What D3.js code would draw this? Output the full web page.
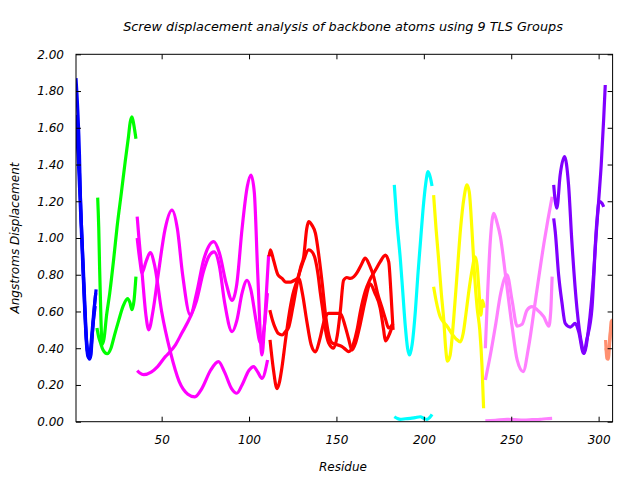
<!DOCTYPE html>
<html><head><meta charset="utf-8">
<script src="https://cdn.jsdelivr.net/npm/d3@7"></script>
<style>
body{margin:0;background:#fff;}
text{font-family:"DejaVu Sans",sans-serif;font-style:italic;font-size:12px;fill:#000;}
</style></head>
<body><svg id="c" width="640" height="480"></svg>
<script>
// ---- data: [residue, displacement] ----
const xTicks = [50,100,150,200,250,300];
const yTicks = [0,0.2,0.4,0.6,0.8,1.0,1.2,1.4,1.6,1.8,2.0];

const group1 = [ // blue
 [[1,1.87],[2,1.7],[3,1.45],[3.5,1.24],[4.2,1.05],[5,0.88],[6,0.66],[7,0.45],[8,0.36],[8.7,0.34],[9.5,0.36],[10.5,0.5],[11.5,0.62],[12.5,0.72]],
 [[1,1.67],[2,1.55],[3,1.35],[4,1.1],[5,0.85],[6,0.62],[7,0.44],[8,0.36],[9,0.35],[10,0.44],[11,0.55],[12,0.63]],
 [[1,1.6],[2,1.48],[3,1.28],[4,1.05],[5,0.82],[6,0.6],[7,0.42],[8,0.35],[9,0.37],[10,0.47],[11,0.58],[12.3,0.7]]
];
const group2 = [ // green
 [[13.4,1.22],[14,1.06],[14.5,0.84],[15.3,0.55],[15.9,0.42],[17,0.45],[18.5,0.58],[20.3,0.70],[22.5,0.88],[24.5,1.06],[27,1.25],[29.2,1.42],[31,1.55],[32,1.63],[33,1.66],[34,1.62],[35.3,1.54]],
 [[13,0.51],[14,0.46],[15,0.43],[16.5,0.39],[18.8,0.37],[21,0.40],[23,0.47],[25.4,0.55],[28,0.63],[30.5,0.67],[31.8,0.65],[33,0.61],[34.2,0.66],[35.3,0.79]]
];
const group3 = [ // magenta
 [[36,1.116],[37,1.0],[38.8,0.81],[41,0.58],[42.6,0.50],[45,0.6],[48,0.8],[52,1.05],[55.9,1.152],[59,1.05],[62,0.8],[66.4,0.58],[70,0.7],[74,0.88],[79.8,0.98],[83,0.92],[87,0.75],[90.3,0.66],[93,0.75],[96,1.05],[99,1.28],[101.1,1.343],[103,1.25],[105,0.8],[107.4,0.363],[109,0.55],[111.2,0.907]],
 [[36,1.0],[37.5,0.88],[38.8,0.81],[41,0.87],[43.5,0.92],[46,0.85],[50,0.6],[55,0.38],[60,0.22],[65,0.15],[69,0.135],[73,0.18],[78,0.28],[82.5,0.327],[86,0.27],[90,0.18],[93,0.155],[96,0.2],[100,0.28],[102.6,0.30],[105,0.27],[107.4,0.236],[110.6,0.336]],
 [[36,0.278],[37.5,0.265],[39.7,0.256],[44,0.27],[47.7,0.30],[52.1,0.354],[54.8,0.381],[58,0.42],[61.4,0.48],[66.4,0.57],[70,0.66],[74,0.82],[77,0.9],[80,0.925],[83,0.85],[86,0.65],[90.3,0.49],[93,0.55],[96,0.7],[98.9,0.77],[101,0.72],[104,0.55],[106.5,0.43],[108.5,0.5],[110.5,0.7]]
];
const group4 = [ // red
 [[111.5,0.90],[112.2,0.935],[114,0.88],[116.5,0.8],[118.9,0.78],[121,0.76],[123.6,0.76],[126,0.77],[128.4,0.78],[130.5,0.7],[133,0.55],[135.5,0.42],[138,0.38],[140.5,0.45],[143,0.55],[145.5,0.59],[149,0.59],[152.2,0.59],[155,0.52],[157,0.45],[158.9,0.39],[161,0.43],[163.6,0.53],[166.5,0.66],[169.3,0.75],[172,0.7],[175,0.62],[177,0.5],[178,0.44],[180,0.47],[181.8,0.515]],
 [[111.9,0.608],[113.5,0.55],[114.8,0.515],[116.8,0.48],[118.9,0.472],[120.8,0.49],[122.7,0.515],[125,0.62],[127.5,0.75],[129.5,0.84],[131.3,0.9],[133,1.05],[134.1,1.089],[136,1.07],[138,1.025],[140,0.9],[141.9,0.75],[143.8,0.58],[145.7,0.47],[147.4,0.43],[150,0.42],[153,0.41],[155,0.395],[157,0.381],[159.9,0.43],[161.8,0.5],[163.7,0.6],[166.5,0.71],[169,0.77],[172,0.82],[175,0.87],[178,0.907],[179.9,0.87],[181.2,0.7],[182.4,0.5]],
 [[112,0.445],[114,0.28],[116,0.18],[117.5,0.22],[118.9,0.30],[120.8,0.44],[122.7,0.57],[125,0.69],[127.5,0.77],[129.5,0.83],[131.3,0.88],[134.1,0.935],[136,0.925],[138,0.88],[139.5,0.8],[140.8,0.70],[142.3,0.6],[143.7,0.50],[145.5,0.43],[148.4,0.40],[150.5,0.47],[152.2,0.6],[154.1,0.77],[156,0.785],[157.9,0.78],[160,0.79],[161.7,0.81],[164,0.85],[166.5,0.89],[169,0.85],[171.3,0.79],[173.5,0.7],[176.1,0.62],[178,0.56],[179.9,0.51],[182.4,0.535]]
];
const group5 = [ // cyan
 [[183.1,1.289],[184.5,1.1],[186.6,0.88],[188,0.7],[189.4,0.52],[190.7,0.4],[191.9,0.363],[193.3,0.42],[195.2,0.608],[196.6,0.8],[198,0.97],[199.5,1.15],[201,1.29],[202.4,1.361],[203.7,1.33],[204.7,1.283]],
 [[183.1,0.027],[184.8,0.018],[186.6,0.013],[189.5,0.016],[192.3,0.018],[195,0.022],[198,0.027],[200,0.018],[201.8,0.013],[203.3,0.022],[204.7,0.04]]
];
const group6 = [ // yellow
 [[205.6,1.234],[207,1.05],[208.5,0.88],[210,0.7],[211.4,0.554],[212.5,0.4],[213.5,0.33],[215,0.36],[217,0.55],[219,0.8],[221,1.05],[223,1.22],[224.7,1.29],[226,1.25],[227.5,1.05],[229,0.8],[230.5,0.62],[232,0.5],[233.3,0.3],[234.2,0.073]],
 [[205.6,0.735],[207,0.66],[209.4,0.57],[211.5,0.54],[213.3,0.52],[216,0.48],[218.5,0.45],[220.9,0.435],[222.5,0.48],[224,0.58],[225.6,0.70],[227.5,0.82],[229.4,0.898],[230.5,0.85],[231.5,0.72],[232.6,0.58],[233.6,0.66],[234.5,0.62]]
];
const group7 = [ // violet
 [[235.2,0.40],[236.5,0.7],[238,0.98],[240,1.134],[242,1.08],[243.8,1.007],[246.7,0.80],[250.5,0.518],[253.4,0.336],[256.8,0.273],[260,0.41],[263.9,0.663],[268.7,0.97],[271,1.1],[273.4,1.225]],
 [[235.2,0.227],[238,0.36],[240.9,0.518],[244,0.7],[247.6,0.80],[250.5,0.66],[253.4,0.52],[256.2,0.53],[259,0.607],[261.9,0.626],[264.8,0.61],[268.7,0.57],[271.5,0.52],[272.6,0.6],[273.4,0.79]],
 [[235.2,0.004],[241,0.008],[247.6,0.013],[252,0.011],[257.1,0.009],[262,0.011],[266.6,0.013],[270,0.016],[273.4,0.018]]
];
const group8 = [ // purple
 [[274.3,1.289],[275.2,1.2],[276.1,1.162],[278,1.343],[280.5,1.443],[282.8,1.289],[284.7,0.98],[287.6,0.617],[290.4,0.417],[291.6,0.372],[294.3,0.51],[297.1,0.80],[299,1.09],[300.4,1.2],[301.9,1.19],[302.9,1.17]],
 [[274.3,1.107],[275.2,1.034],[277.1,0.80],[279,0.65],[280.9,0.535],[283.8,0.515],[286.6,0.535],[288.6,0.49],[291.4,0.372],[293.3,0.45],[296.2,0.617],[298.1,0.945],[300,1.2],[301.5,1.4],[302.9,1.65],[303.8,1.833]]
];
const group9 = [ // salmon
 [[304,0.445],[304.7,0.345],[305.5,0.34],[306.4,0.44],[307.2,0.545],[308,0.554]],
 [[304.2,0.40],[305.2,0.37],[306,0.42],[307,0.5],[308,0.53]]
];
const groups = [group1,group2,group3,group4,group5,group6,group7,group8,group9];
const groupColors = ["#0000ff","#00ff00","#ff00ff","#ff0000","#00ffff","#ffff00","#ff80ff","#8000ff","#ff9070"];

// ---- layout ----
const svg = d3.select("#c");
const L=76, R=612.6, T=54.3, B=421.7;
const x = d3.scaleLinear().domain([1,308]).range([L,R]);
const y = d3.scaleLinear().domain([0,2]).range([B,T]);

svg.append("clipPath").attr("id","pc").append("rect")
  .attr("x",L).attr("y",T).attr("width",R-L).attr("height",B-T);

const line = d3.line().x(d=>x(d[0])).y(d=>y(d[1])).curve(d3.curveMonotoneX);
const plot = svg.append("g").attr("clip-path","url(#pc)");
groups.forEach((g,i)=>{
  g.forEach(c=>{
    plot.append("path").attr("d",line(c)).attr("fill","none")
      .attr("stroke",groupColors[i]).attr("stroke-width",3.2)
      .attr("stroke-linejoin","round");
  });
});

// axes
const fmt = d3.format(".2f");
const axB = d3.axisBottom(x).tickValues(xTicks).tickSize(-5).tickPadding(14).tickFormat(d3.format("d"));
const axT = d3.axisTop(x).tickValues(xTicks).tickSize(-5).tickFormat("");
const axL = d3.axisLeft(y).tickValues(yTicks).tickSize(-5).tickPadding(12).tickFormat(fmt);
const axR = d3.axisRight(y).tickValues(yTicks).tickSize(-5).tickFormat("");
function style(g){
  g.select(".domain").remove();
  g.selectAll("line").attr("stroke","#000");
  g.selectAll("text").attr("font-size",null).attr("font-family",null);
}
svg.append("g").attr("transform",`translate(0,${B})`).call(axB).call(style);
svg.append("g").attr("transform",`translate(0,${T})`).call(axT).call(style);
svg.append("g").attr("transform",`translate(${L},0)`).call(axL).call(style);
svg.append("g").attr("transform",`translate(${R},0)`).call(axR).call(style);
svg.append("rect").attr("x",L).attr("y",T).attr("width",R-L).attr("height",B-T)
  .attr("fill","none").attr("stroke","#000").attr("stroke-width",1);

svg.append("text").attr("x",343).attr("y",31).attr("text-anchor","middle").style("font-size","12.8px")
  .text("Screw displacement analysis of backbone atoms using 9 TLS Groups");
svg.append("text").attr("x",343).attr("y",471).attr("text-anchor","middle").text("Residue");
svg.append("text").attr("transform","translate(19,238) rotate(-90)").attr("text-anchor","middle")
  .text("Angstroms Displacement");
</script></body></html>
